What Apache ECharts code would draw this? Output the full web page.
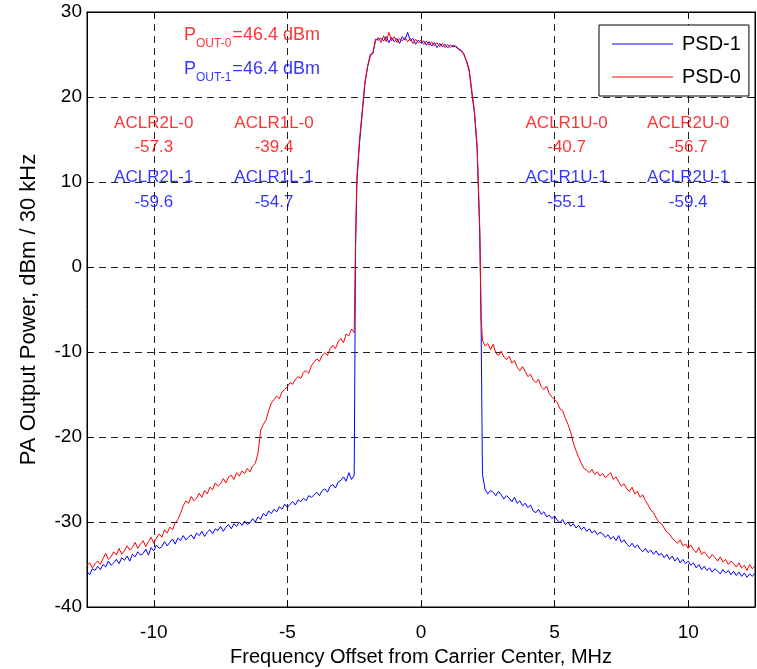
<!DOCTYPE html>
<html><head><meta charset="utf-8">
<script src="https://cdn.jsdelivr.net/npm/echarts@6/dist/echarts.min.js"></script>
<style>html,body{margin:0;padding:0;background:#fff}#c{width:757px;height:669px}</style>
</head><body><div id="c"></div>
<script>
// ---- data (MHz offset, dBm / 30 kHz) ----
const freqLow = [-12.5,-12.4,-12.3,-12.2,-12.1,-12.0,-11.9,-11.8,-11.7,-11.6,-11.5,-11.4,-11.3,-11.2,-11.1,-11.0,-10.9,-10.8,-10.7,-10.6,-10.5,-10.4,-10.3,-10.2,-10.1,-10.0,-9.9,-9.8,-9.7,-9.6,-9.5,-9.4,-9.3,-9.2,-9.1,-9.0,-8.9,-8.8,-8.7,-8.6,-8.5,-8.4,-8.3,-8.2,-8.1,-8.0,-7.9,-7.8,-7.7,-7.6,-7.5,-7.4,-7.3,-7.2,-7.1,-7.0,-6.9,-6.8,-6.7,-6.6,-6.5,-6.4,-6.3,-6.2,-6.1,-6.0,-5.9,-5.8,-5.7,-5.6,-5.5,-5.4,-5.3,-5.2,-5.1,-5.0,-4.9,-4.8,-4.7,-4.6,-4.5,-4.4,-4.3,-4.2,-4.1,-4.0,-3.9,-3.8,-3.7,-3.6,-3.5,-3.4,-3.3,-3.2,-3.1,-3.0,-2.9,-2.8,-2.7,-2.6,-2.5];
const freqBand = [-2.45,-2.4,-2.3,-2.2,-2.1,-2.0,-1.9,-1.8,-1.7,-1.6,-1.5,-1.4,-1.3,-1.2,-1.1,-1.0,-0.9,-0.8,-0.7,-0.6,-0.5,-0.4,-0.3,-0.2,-0.1,0.0,0.1,0.2,0.3,0.4,0.5,0.6,0.7,0.8,0.9,1.0,1.1,1.2,1.3,1.4,1.5,1.6,1.7,1.8,1.9,2.0,2.1,2.2,2.25];
const freqHigh = [2.3,2.4,2.5,2.6,2.7,2.8,2.9,3.0,3.1,3.2,3.3,3.4,3.5,3.6,3.7,3.8,3.9,4.0,4.1,4.2,4.3,4.4,4.5,4.6,4.7,4.8,4.9,5.0,5.1,5.2,5.3,5.4,5.5,5.6,5.7,5.8,5.9,6.0,6.1,6.2,6.3,6.4,6.5,6.6,6.7,6.8,6.9,7.0,7.1,7.2,7.3,7.4,7.5,7.6,7.7,7.8,7.9,8.0,8.1,8.2,8.3,8.4,8.5,8.6,8.7,8.8,8.9,9.0,9.1,9.2,9.3,9.4,9.5,9.6,9.7,9.8,9.9,10.0,10.1,10.2,10.3,10.4,10.5,10.6,10.7,10.8,10.9,11.0,11.1,11.2,11.3,11.4,11.5,11.6,11.7,11.8,11.9,12.0,12.1,12.2,12.3,12.4,12.5];

// PSD-0 (red)
const psd0Low = [-35.1,-34.8,-35.4,-34.9,-34.6,-35.0,-34.3,-33.7,-34.4,-34.1,
-33.5,-33.9,-33.1,-33.8,-33.4,-32.8,-33.3,-33.0,-32.4,-33.1,
-32.6,-32.2,-32.9,-32.3,-31.8,-32.5,-31.9,-31.4,-31.8,-30.9,
-31.3,-30.6,-30.9,-30.1,-29.7,-29.0,-28.1,-27.5,-27.8,-27.0,
-27.5,-27.2,-26.6,-27.1,-26.3,-26.7,-25.9,-26.2,-25.4,-25.8,
-25.5,-24.9,-25.4,-24.7,-24.5,-25.0,-24.2,-24.6,-24.0,-24.3,
-23.7,-24.1,-23.4,-23.1,-21.9,-19.2,-18.5,-18.0,-16.9,-16.0,
-15.6,-15.2,-15.5,-14.7,-14.4,-14.1,-13.6,-13.8,-13.2,-12.9,
-13.1,-12.4,-12.2,-12.5,-11.6,-11.2,-10.8,-11.1,-10.4,-10.1,
-10.4,-9.6,-9.2,-9.6,-8.8,-8.4,-8.9,-7.9,-8.1,-7.3,
-7.7];
const psd0Band = [3.0,10.5,15.0,18.3,21.8,23.6,24.8,25.3,26.6,27.0,26.4,27.2,26.5,27.6,26.6,27.1,26.4,26.9,26.6,27.0,26.5,26.9,26.3,26.8,26.4,26.7,26.2,26.6,26.1,26.5,26.0,26.4,25.9,26.3,25.8,26.2,25.8,26.1,25.9,25.6,25.4,25.0,24.3,23.3,20.8,18.4,14.3,4.5,-6.0];
const psd0High = [-8.6,-9.3,-9.0,-9.7,-9.1,-10.1,-10.4,
-9.9,-10.6,-10.9,-10.5,-11.3,-11.0,-11.8,-12.2,-11.7,-12.3,
-12.9,-12.6,-13.3,-13.6,-13.2,-14.1,-14.4,-14.0,-14.9,-15.3,
-15.6,-15.9,-16.7,-16.9,-17.8,-18.5,-19.4,-20.7,-21.6,-22.4,
-23.1,-23.7,-23.9,-24.2,-23.8,-24.4,-24.1,-24.6,-24.3,-24.8,
-24.5,-24.2,-25.0,-24.7,-25.3,-25.8,-25.5,-26.1,-26.4,-25.9,
-26.7,-26.4,-27.1,-26.8,-27.5,-28.0,-28.6,-28.9,-29.5,-30.0,
-30.2,-30.7,-31.2,-31.4,-31.9,-32.2,-32.5,-32.1,-32.8,-32.6,
-33.1,-32.7,-33.3,-33.6,-33.0,-33.8,-33.5,-33.9,-34.3,-33.8,
-34.2,-34.6,-34.1,-34.7,-34.4,-35.0,-34.6,-34.9,-35.3,-34.8,
-35.4,-35.1,-35.7,-35.0,-35.5,-35.2];

// PSD-1 (blue)
const psd1Low = [-35.8,-36.2,-35.5,-35.7,-35.2,-35.6,-35.0,-35.3,-34.6,-35.1,
-34.8,-34.4,-34.9,-34.2,-34.5,-34.0,-34.6,-33.8,-34.1,-33.5,
-33.9,-33.7,-33.2,-33.9,-33.0,-33.4,-32.7,-33.1,-32.9,-32.3,
-32.8,-32.4,-32.0,-32.6,-31.9,-32.2,-31.6,-32.1,-31.8,-31.5,
-32.0,-31.3,-31.6,-31.1,-31.7,-31.2,-30.9,-31.4,-30.8,-31.0,
-30.5,-31.1,-30.6,-30.3,-30.8,-30.2,-30.5,-30.0,-30.4,-29.9,
-30.3,-30.1,-29.6,-30.0,-29.4,-29.7,-29.0,-29.3,-28.7,-29.0,
-28.5,-28.8,-28.2,-28.5,-27.9,-28.3,-27.9,-27.6,-28.0,-27.4,
-27.6,-27.2,-27.5,-26.9,-27.1,-26.8,-26.5,-26.9,-26.3,-26.1,
-26.5,-25.8,-25.6,-26.0,-25.3,-25.1,-24.7,-25.2,-24.2,-25.0,
-24.5];
const psd1Band = [2.0,10.0,14.6,18.0,21.5,23.5,25.0,25.1,26.8,26.7,26.9,26.6,27.1,26.4,27.0,26.5,26.9,26.3,27.1,26.7,27.6,26.6,26.9,26.2,26.7,26.3,26.6,26.1,26.5,26.0,26.4,25.8,26.3,25.9,26.2,25.8,26.1,25.9,26.0,25.7,25.5,25.1,24.2,23.1,20.5,18.1,13.9,3.8,-7.0];
const psd1High = [-24.4,-26.2,-26.7,-26.3,-26.5,-26.9,-26.4,
-26.8,-27.3,-26.9,-27.2,-27.6,-27.1,-27.8,-27.5,-28.1,-27.8,
-28.3,-28.0,-28.7,-28.9,-28.5,-29.1,-28.8,-29.4,-29.2,-29.6,
-29.3,-29.8,-30.1,-29.7,-30.3,-30.0,-30.5,-30.2,-30.7,-30.4,
-30.9,-30.6,-31.1,-30.8,-31.3,-31.0,-31.5,-31.2,-31.4,-31.8,
-31.5,-32.0,-31.7,-32.2,-31.6,-32.4,-32.1,-32.6,-32.9,-32.5,
-33.0,-32.7,-33.2,-33.5,-33.1,-33.6,-33.3,-33.8,-33.4,-33.9,
-33.7,-34.2,-33.8,-34.4,-34.0,-34.6,-34.2,-34.8,-34.4,-34.9,
-34.6,-35.1,-34.8,-35.4,-35.0,-35.6,-35.2,-35.7,-35.4,-35.9,
-35.5,-35.8,-36.1,-35.6,-36.0,-35.7,-36.2,-35.8,-36.3,-35.9,
-36.4,-36.0,-36.5,-36.1,-36.4,-36.0];

// annotations
const aclrX = [-10, -5.5, 5.45, 10];
const aclrNames0 = ['ACLR2L-0','ACLR1L-0','ACLR1U-0','ACLR2U-0'];
const aclrVals0  = ['-57.3','-39.4','-40.7','-56.7'];
const aclrNames1 = ['ACLR2L-1','ACLR1L-1','ACLR1U-1','ACLR2U-1'];
const aclrVals1  = ['-59.6','-54.7','-55.1','-59.4'];
const aclrRowY = [16.9, 14.1, 10.6, 7.6];
const poutLabels = ['OUT-0','OUT-1'];
const poutValues = ['46.4','46.4'];
const poutX = -8.85;
const poutY = [28.3, 24.3];

const xTicks = [-10,-5,0,5,10];

// ---- build ----
const freq = [...freqLow, ...freqBand, ...freqHigh];
const psd0 = [...psd0Low, ...psd0Band, ...psd0High];
const psd1 = [...psd1Low, ...psd1Band, ...psd1High];
if (freq.length !== psd0.length || freq.length !== psd1.length) console.error('length mismatch', freq.length, psd0.length, psd1.length);
const pairs = (ys) => freq.map((f, i) => [f, ys[i]]);

const FONT = "'Liberation Sans', Arial, Helvetica, sans-serif";
const RED = '#ff0000', BLUE = '#0000ff';

const noteData = [];
aclrX.forEach((x, i) => {
  noteData.push({ value: [x, aclrRowY[0]], label: { formatter: aclrNames0[i], color: RED } });
  noteData.push({ value: [x, aclrRowY[1]], label: { formatter: aclrVals0[i], color: RED } });
  noteData.push({ value: [x, aclrRowY[2]], label: { formatter: aclrNames1[i], color: BLUE } });
  noteData.push({ value: [x, aclrRowY[3]], label: { formatter: aclrVals1[i], color: BLUE } });
});
const poutColors = [RED, BLUE];
poutLabels.forEach((s, i) => {
  noteData.push({
    value: [poutX, poutY[i]],
    label: {
      position: [0, 0], align: 'left', verticalAlign: 'top',
      formatter: '{p|P}{s|' + s + '}{e|=' + poutValues[i] + ' dBm}',
      rich: {
        p: { fontSize: 18, lineHeight: 20, verticalAlign: 'top', color: poutColors[i], fontFamily: FONT },
        s: { fontSize: 12, lineHeight: 12, padding: [12, 1, 0, 0], verticalAlign: 'top', color: poutColors[i], fontFamily: FONT },
        e: { fontSize: 18, lineHeight: 20, verticalAlign: 'top', color: poutColors[i], fontFamily: FONT }
      }
    }
  });
});

const chart = echarts.init(document.getElementById('c'), null, { renderer: 'canvas' });
const lineAxis = { show: true, onZero: false, lineStyle: { color: '#000', width: 1 } };
const tickIn = { show: true, inside: true, length: 6, lineStyle: { color: '#000' } };
const gridLine = { show: true, lineStyle: { color: '#222', type: [7, 5], width: 1 } };
chart.setOption({
  animation: false,
  backgroundColor: '#fff',
  grid: { left: 87, top: 12, width: 668, height: 595, outerBoundsMode: 'none', containLabel: false,
    show: true, borderColor: '#000', borderWidth: 1, backgroundColor: '#fff' },
  legend: {
    data: ['PSD-1', 'PSD-0'],
    orient: 'vertical',
    left: 599, top: 25,
    padding: [9, 8, 9, 13],
    itemWidth: 61, itemHeight: 1, itemGap: 13,
    backgroundColor: '#fff', borderColor: '#000', borderWidth: 1, borderRadius: 0,
    textStyle: { fontSize: 20, fontFamily: FONT, color: '#000', padding: [0, 0, 0, 4], lineHeight: 20 },
    icon: 'rect', itemStyle: { borderWidth: 0 }
  },
  xAxis: [{
    type: 'value', min: -12.5, max: 12.5, splitNumber: 5, position: 'bottom',
    axisLine: lineAxis,
    axisTick: Object.assign({ customValues: xTicks }, tickIn),
    axisLabel: { show: true, fontSize: 19, fontFamily: FONT, color: '#000', margin: 16, customValues: xTicks },
    splitLine: gridLine,
    name: 'Frequency Offset from Carrier Center, MHz', nameLocation: 'middle', nameGap: 40,
    nameTextStyle: { fontSize: 20, fontFamily: FONT, color: '#000' }
  }, {
    type: 'value', min: -12.5, max: 12.5, splitNumber: 5, position: 'top',
    axisLine: lineAxis,
    axisTick: Object.assign({ customValues: xTicks }, tickIn),
    axisLabel: { show: false }, splitLine: { show: false }
  }],
  yAxis: [{
    type: 'value', min: -40, max: 30, interval: 10, position: 'left',
    axisLine: lineAxis, axisTick: tickIn,
    axisLabel: { fontSize: 19, fontFamily: FONT, color: '#000', margin: 5 },
    splitLine: gridLine,
    name: 'PA Output Power, dBm / 30 kHz', nameLocation: 'middle', nameGap: 47, nameRotate: 90,
    nameTextStyle: { fontSize: 22, fontFamily: FONT, color: '#000' }
  }, {
    type: 'value', min: -40, max: 30, interval: 10, position: 'right',
    axisLine: lineAxis, axisTick: tickIn,
    axisLabel: { show: false }, splitLine: { show: false }
  }],
  series: [
    { name: 'PSD-1', type: 'line', data: pairs(psd1), showSymbol: false, symbol: 'none',
      lineStyle: { color: BLUE, width: 1 }, itemStyle: { color: BLUE }, z: 3, silent: true },
    { name: 'PSD-0', type: 'line', data: pairs(psd0), showSymbol: false, symbol: 'none',
      lineStyle: { color: RED, width: 1 }, itemStyle: { color: RED }, z: 4, silent: true },
    { name: 'notes', type: 'scatter', data: noteData, symbolSize: 1, silent: true, z: 10,
      itemStyle: { color: 'rgba(0,0,0,0)' },
      label: { show: true, position: 'inside', align: 'center', verticalAlign: 'middle',
        fontSize: 17, fontFamily: FONT } }
  ]
});
</script>
</body></html>
